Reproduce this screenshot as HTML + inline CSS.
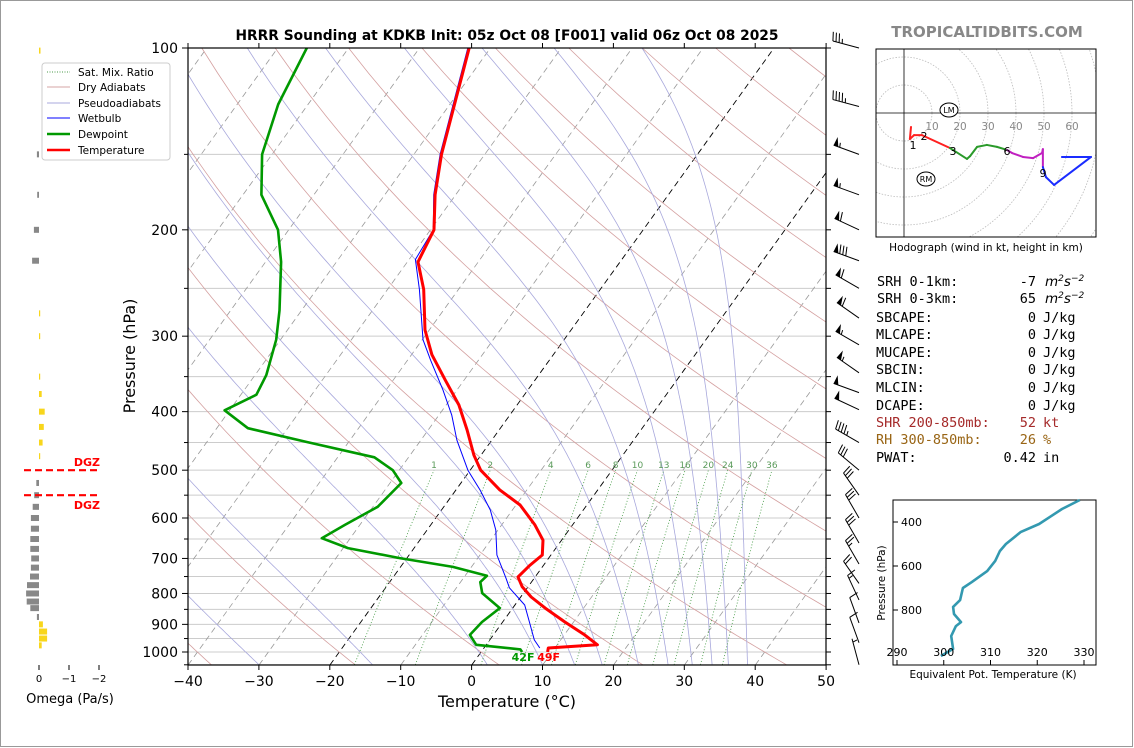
<!DOCTYPE html>
<html><head><meta charset="utf-8"><style>
html,body{margin:0;padding:0;background:#fff;}
svg{display:block;font-family:"DejaVu Sans","Liberation Sans",sans-serif;}
</style></head><body>
<svg id="fig" xmlns="http://www.w3.org/2000/svg" width="1134" height="748" viewBox="0 0 1134 748">
<rect x="0.5" y="0.5" width="1132" height="746" fill="#fff" stroke="#999"/>
<defs><clipPath id="mainclip"><rect x="188" y="48" width="638" height="617"/></clipPath>
<clipPath id="hodoclip"><rect x="876" y="49" width="220" height="188"/></clipPath></defs>
<text x="507" y="40" text-anchor="middle" font-size="13.8" font-weight="bold">HRRR Sounding at KDKB Init: 05z Oct 08 [F001] valid 06z Oct 08 2025</text>
<text x="987" y="37" text-anchor="middle" font-size="15" font-weight="bold" fill="#888">TROPICALTIDBITS.COM</text>
<g id="bg" clip-path="url(#mainclip)"></g>
<g id="prof" clip-path="url(#mainclip)"></g>
<g id="axes"></g>
<g id="barbs"></g>
<g id="omega"></g>
<g id="hodo"></g>
<g id="inset"></g>
<g>
<rect x="42" y="63" width="128" height="97" rx="3" fill="#fff" stroke="#ccc"/>
<line x1="47" y1="72" x2="70" y2="72" stroke="#4a9a4a" stroke-dasharray="1,1.5"/>
<text x="78" y="76" font-size="10.5">Sat. Mix. Ratio</text>
<line x1="47" y1="87" x2="70" y2="87" stroke="#d4a5a5"/>
<text x="78" y="91" font-size="10.5">Dry Adiabats</text>
<line x1="47" y1="103" x2="70" y2="103" stroke="#aaaadd"/>
<text x="78" y="107" font-size="10.5">Pseudoadiabats</text>
<line x1="47" y1="118" x2="70" y2="118" stroke="#0000ff"/>
<text x="78" y="122" font-size="10.5">Wetbulb</text>
<line x1="47" y1="134" x2="70" y2="134" stroke="#009900" stroke-width="2.5"/>
<text x="78" y="138" font-size="10.5">Dewpoint</text>
<line x1="47" y1="150" x2="70" y2="150" stroke="#ff0000" stroke-width="2.5"/>
<text x="78" y="154" font-size="10.5">Temperature</text>
</g>
<g font-family="DejaVu Sans Mono, Liberation Mono, monospace" font-size="13.5">
<text x="877" y="286">SRH 0-1km:</text><text x="1036" y="286" text-anchor="end">-7</text><text x="1045" y="286" font-style="italic" font-family="DejaVu Sans,sans-serif">m<tspan dy="-5" font-size="9">2</tspan><tspan dy="5">s</tspan><tspan dy="-5" font-size="9">−2</tspan></text>
<text x="877" y="303">SRH 0-3km:</text><text x="1036" y="303" text-anchor="end">65</text><text x="1045" y="303" font-style="italic" font-family="DejaVu Sans,sans-serif">m<tspan dy="-5" font-size="9">2</tspan><tspan dy="5">s</tspan><tspan dy="-5" font-size="9">−2</tspan></text>
<text x="876" y="322">SBCAPE:</text><text x="1036" y="322" text-anchor="end">0</text><text x="1043" y="322">J/kg</text>
<text x="876" y="339">MLCAPE:</text><text x="1036" y="339" text-anchor="end">0</text><text x="1043" y="339">J/kg</text>
<text x="876" y="357">MUCAPE:</text><text x="1036" y="357" text-anchor="end">0</text><text x="1043" y="357">J/kg</text>
<text x="876" y="374">SBCIN:</text><text x="1036" y="374" text-anchor="end">0</text><text x="1043" y="374">J/kg</text>
<text x="876" y="392">MLCIN:</text><text x="1036" y="392" text-anchor="end">0</text><text x="1043" y="392">J/kg</text>
<text x="876" y="410">DCAPE:</text><text x="1036" y="410" text-anchor="end">0</text><text x="1043" y="410">J/kg</text>
<text x="876" y="427" fill="#a52a2a">SHR 200-850mb:</text><text x="1036" y="427" text-anchor="end" fill="#a52a2a">52</text><text x="1043" y="427" fill="#a52a2a">kt</text>
<text x="876" y="444" fill="#996515">RH 300-850mb:</text><text x="1036" y="444" text-anchor="end" fill="#996515">26</text><text x="1043" y="444" fill="#996515">%</text>
<text x="876" y="462">PWAT:</text><text x="1036" y="462" text-anchor="end">0.42</text><text x="1043" y="462">in</text>
</g>
</svg>
<script>
// ---- Sounding data ----
const tempP = [100,150,175,200,226,251,293,322,355,390,429,472,500,539,571,616,653,691,718,751,780,811,846,892,937,973,985,1000];
const tempC = [-63.0,-56.1,-52.9,-49.5,-48.5,-44.9,-40.6,-37.1,-32.6,-28.2,-24.5,-21.0,-18.5,-13.8,-9.4,-5.3,-2.6,-1.2,-1.9,-2.4,-0.8,1.5,4.6,8.8,12.9,15.7,9.1,9.4];
const dewP = [100,124,150,175,200,226,272,304,348,375,398,426,449,476,500,525,575,616,648,673,699,723,748,766,799,846,892,937,973,990,1000];
const dewC = [-85.9,-84.2,-81.4,-77.4,-71.5,-67.8,-63.1,-60.6,-58.4,-57.8,-60.7,-55.6,-45.9,-34.8,-30.9,-28.4,-29.3,-32.1,-34.0,-29.3,-21.0,-12.6,-6.9,-7.2,-5.8,-1.8,-2.9,-3.3,-1.4,5.3,5.8];
const wbP = [100,150,175,200,224,251,304,329,368,405,446,500,539,582,628,691,754,783,836,902,955,985];
const wbC = [-63.2,-56.3,-53.1,-49.6,-49.1,-45.5,-39.9,-36.7,-32.0,-28.2,-24.9,-20.3,-16.6,-13.1,-10.3,-7.6,-4.0,-2.5,1.4,4.2,6.3,7.9];
const barbP = [100,125,150,175,200,225,250,280,310,345,372,397,450,500,550,600,660,715,770,820,895,965,1050];
const barbSpd = [35,45,55,55,60,80,60,60,55,55,50,50,45,30,30,30,30,25,20,15,10,10,5];
const barbDir = [285,285,290,290,295,290,300,305,300,305,290,295,300,310,325,330,330,330,325,335,340,340,345];
const omegaP = [101,150,175,200,225,275,300,350,374,400,424,450,474,525,550,575,600,625,650,675,700,725,750,775,800,825,846,875,900,925,950,975];
const omegaV = [-0.05,0.07,0.06,0.17,0.23,-0.03,-0.01,-0.01,-0.09,-0.19,-0.16,-0.12,-0.01,0.09,0.16,0.21,0.27,0.27,0.29,0.29,0.26,0.27,0.3,0.4,0.43,0.41,0.29,0.07,-0.13,-0.27,-0.27,-0.09];
const hodoU = [2.5,2.1,3.6,6.4,16.4,17.5,22.5,23.6,26.1,29.6,33.2,36.8,38.6,42.5,46.1,49.3,49.6,49.6,50.7,53.6,66.8,56.4];
const hodoV = [-5,-9.3,-7.9,-7.9,-12.5,-13.2,-16.4,-15.4,-12.1,-11.4,-12.1,-13.2,-14.3,-15.7,-16.1,-14.3,-12.9,-19.3,-22.9,-25.7,-15.7,-15.7];
const hodoSeg = ["red","red","red","red","red","green","green","green","green","green","green","green","magenta","magenta","magenta","magenta","magenta","magenta","blue","blue","blue","blue"];
const thetaE = [299.4,302.0,301.6,302.6,303.7,302.2,302.0,303.5,304.1,306.0,309.3,311.0,312.0,313.3,316.5,320.4,322.7,325.3,329.1];
const thetaP = [1009,977,918,873,855,818,786,755,700,673,623,577,532,500,445,409,377,341,300];
const xTicks = [-40,-30,-20,-10,0,10,20,30,40,50];
const pTicks = [100,200,300,400,500,600,700,800,900,1000];
const mixW = [1,2,4,6,8,10,13,16,20,24,30,36];

const NS = "http://www.w3.org/2000/svg";
function mk(tag, attrs, parent){const e=document.createElementNS(NS,tag);for(const k in attrs)e.setAttribute(k,attrs[k]);parent.appendChild(e);return e;}
const yP = p => 48 + 604*Math.log10(p/100);
const xT = (T,p) => 188 + (T+40)*7.09 + 0.72*(665 - yP(p));
const pathOf = pts => pts.map((q,i)=>(i?"L":"M")+q[0].toFixed(1)+","+q[1].toFixed(1)).join("");

const bg = document.getElementById("bg");
for(let p=100;p<=1050;p+=50){
  const l=mk("line",{x1:188,x2:826,y1:yP(p),y2:yP(p),stroke:"#cccccc","stroke-width":1},bg);
  
  
}
for(let T=-130;T<=50;T+=10){
  const black=(T===-20||T===0);
  const l=mk("line",{x1:xT(T,1050),y1:665,x2:xT(T,100),y2:48,stroke:black?"#000":"#999","stroke-width":black?0.9:0.8,"stroke-dasharray":"6,4"},bg);
  
  
}
for(let t0=-40;t0<=260;t0+=20){
  const th=t0+273.15;const pts=[];
  for(let p=1050;p>=100;p-=10){pts.push([xT(th*Math.pow(p/1000,0.286)-273.15,p),yP(p)]);}
  const l=mk("path",{d:pathOf(pts),fill:"none",stroke:"#d4a0a0","stroke-width":0.8},bg);
  
  
}
function esat(Tc){return 6.112*Math.exp(17.67*Tc/(Tc+243.5));}
[-46,-30,-14,2.2,10,14.5,18.4,23.5,27.7,31.1,33.9,36.2,38.9].forEach(t0=>{
  let T=t0+273.15;const pts=[];
  for(let p=1050;p>=100;p-=5){
    pts.push([xT(T-273.15,p),yP(p)]);
    const es=esat(T-273.15);const rs=0.622*es/(p-es);
    const Rd=287,Cp=1005,Lv=2.5e6;
    const dTdp=(Rd*T+Lv*rs)/(p*(Cp+Lv*Lv*rs*0.622/(Rd*T*T)));
    T-=dTdp*5;
  }
  const l=mk("path",{d:pathOf(pts),fill:"none",stroke:"#a8a8dc","stroke-width":0.8},bg);
  
  
});
mixW.forEach(w=>{
  const pts=[];
  for(let p=1050;p>=500;p-=10){const e=w*p/(622+w);const L=Math.log(e/6.112);pts.push([xT(243.5*L/(17.67-L),p),yP(p)]);}
  const l=mk("path",{d:pathOf(pts),fill:"none",stroke:"#3c963c","stroke-width":0.8,"stroke-dasharray":"1,2"},bg);
  
  
  const e=w*500/(622+w);const L=Math.log(e/6.112);
  const t=mk("text",{x:xT(243.5*L/(17.67-L),500),y:468,"font-size":9,fill:"#5a9a5a","text-anchor":"middle"},bg);
  t.textContent=w;
  
  
});
const prof=document.getElementById("prof");
function series(P,T,color,w){
  const pts=P.map((p,i)=>[xT(T[i],p),yP(p)]);
  return mk("path",{d:pathOf(pts),fill:"none",stroke:color,"stroke-width":w,"stroke-linejoin":"round"},prof);
}
const wbl=series(wbP,wbC,"#0000ff",1);


const dwl=series(dewP,dewC,"#009900",2.6);


const tl=series(tempP,tempC,"#ff0000",3);


const sfcT=tempC[tempC.length-1], sfcD=dewC[dewC.length-1];
const tf=mk("text",{x:xT(sfcT,1000)+1,y:661,"font-size":11,"font-weight":"bold",fill:"#ff0000","text-anchor":"middle"},document.getElementById("fig"));
tf.textContent=Math.round(sfcT*9/5+32)+"F";


const df=mk("text",{x:xT(sfcD,1000)+1,y:661,"font-size":11,"font-weight":"bold",fill:"#009900","text-anchor":"middle"},document.getElementById("fig"));
df.textContent=Math.round(sfcD*9/5+32)+"F";



const ax=document.getElementById("axes");
const frame=mk("rect",{x:188,y:48,width:638,height:617,fill:"none",stroke:"#000","stroke-width":1.2},ax);


xTicks.forEach(T=>{
  const x=188+(T+40)*7.09;
  mk("line",{x1:x,x2:x,y1:665,y2:670,stroke:"#000"},ax);
  mk("line",{x1:x,x2:x,y1:48,y2:43,stroke:"#000"},ax);
  const t=mk("text",{x:x,y:686,"font-size":14,"text-anchor":"middle"},ax);
  t.textContent=(T<0?"\u2212"+(-T):T);
  
  
});
for(let p=100;p<=1050;p+=50){
  const y=yP(p);const major=(p%100===0);
  mk("line",{x1:major?182:184,x2:188,y1:y,y2:y,stroke:"#000"},ax);
  mk("line",{x1:826,x2:831,y1:y,y2:y,stroke:"#000"},ax);
}
pTicks.forEach(p=>{
  const t=mk("text",{x:178,y:yP(p)+5,"font-size":14,"text-anchor":"end"},ax);
  t.textContent=p;
  
  
});
const xl=mk("text",{x:507,y:707,"font-size":16,"text-anchor":"middle"},ax);
xl.textContent="Temperature (\u00B0C)";


const yl=mk("text",{x:0,y:0,"font-size":16,"text-anchor":"middle",transform:"translate(135,356) rotate(-90)"},ax);
yl.textContent="Pressure (hPa)";



const bg2=document.getElementById("barbs");
barbP.forEach((p,i)=>{
  const px=859, py=yP(p), L=27, d=barbDir[i]*Math.PI/180;
  const ux=Math.sin(d), uy=-Math.cos(d);
  const nx=-uy, ny=ux;
  const ex=px+ux*L, ey=py+uy*L;
  const g=mk("g",{},bg2);
  
  
  mk("line",{x1:px,y1:py,x2:ex,y2:ey,stroke:"#000","stroke-width":1},g);
  let s=Math.round(barbSpd[i]/5)*5, pos=0;
  while(s>=50){
    const ax1=ex-ux*pos, ay1=ey-uy*pos, bx=ex-ux*(pos+5), by=ey-uy*(pos+5);
    mk("polygon",{points:`${ax1},${ay1} ${bx},${by} ${ax1+nx*9-ux*1},${ay1+ny*9-uy*1}`,fill:"#000"},g);
    pos+=6.5; s-=50;
  }
  if(pos===0 && s<10 && s>0) pos=3.5;
  while(s>=10){
    const ax1=ex-ux*pos, ay1=ey-uy*pos;
    mk("line",{x1:ax1,y1:ay1,x2:ax1+nx*9+ux*2,y2:ay1+ny*9+uy*2,stroke:"#000"},g);
    pos+=3.2; s-=10;
  }
  if(s>=5){
    const ax1=ex-ux*pos, ay1=ey-uy*pos;
    mk("line",{x1:ax1,y1:ay1,x2:ax1+nx*4.5+ux*1,y2:ay1+ny*4.5+uy*1,stroke:"#000"},g);
  }
});

const og=document.getElementById("omega");
omegaP.forEach((p,i)=>{
  const v=omegaV[i], x0=39, x1=39-30*v;
  const r=mk("rect",{x:Math.min(x0,x1),y:yP(p)-3,width:Math.max(Math.abs(x1-x0),1.2),height:6,fill:v>0?"#888888":"#f8d61c"},og);
  
  
});
[0,-1,-2].forEach(v=>{
  const x=39-30*v;
  mk("line",{x1:x,x2:x,y1:665,y2:670,stroke:"#000"},og);
  const t=mk("text",{x:x,y:682,"font-size":10,"text-anchor":"middle"},og);
  t.textContent=v===0?"0":"\u2212"+(-v);
  
  
});
const ot=mk("text",{x:70,y:703,"font-size":13,"text-anchor":"middle"},og);
ot.textContent="Omega (Pa/s)";


[[500,-1],[550,1]].forEach(([p,s])=>{
  const l=mk("line",{x1:24,x2:99,y1:yP(p),y2:yP(p),stroke:"#ff0000","stroke-width":2.2,"stroke-dasharray":"7,4"},og);
  
  
  const t=mk("text",{x:100,y:yP(p)+(s<0?-4:14),"font-size":11,"font-weight":"bold",fill:"#ff0000","text-anchor":"end"},og);
  t.textContent="DGZ";
  
  
});

const hg=document.getElementById("hodo");
const hx=u=>904+u*2.8, hy=v=>113-v*2.8;
const hc=mk("g",{"clip-path":"url(#hodoclip)"},hg);
for(let r=10;r<=100;r+=10){
  const c=mk("circle",{cx:904,cy:113,r:r*2.8,fill:"none",stroke:"#bbb","stroke-width":0.8,"stroke-dasharray":"1.5,1.5"},hc);
  
  
}
mk("line",{x1:904,x2:904,y1:49,y2:237,stroke:"#000","stroke-width":0.8},hc);
mk("line",{x1:876,x2:1096,y1:113,y2:113,stroke:"#000","stroke-width":0.8},hc);
const hb=mk("rect",{x:876,y:49,width:220,height:188,fill:"none",stroke:"#000","stroke-width":1},hg);


for(let r=10;r<=60;r+=10){
  const t=mk("text",{x:hx(r),y:130,"font-size":10.5,fill:"#888","text-anchor":"middle"},hg);
  t.textContent=r;
  
  
}
const colMap={red:"#ff2020",green:"#2a9a2a",magenta:"#c020c0",blue:"#1a2cff"};
for(let i=1;i<hodoU.length;i++){
  const l=mk("line",{x1:hx(hodoU[i-1]),y1:hy(hodoV[i-1]),x2:hx(hodoU[i]),y2:hy(hodoV[i]),stroke:colMap[hodoSeg[i]],"stroke-width":2,"stroke-linecap":"round"},hc);
  
  
}
[["1",913,149],["2",924,140],["3",953,155],["6",1007,155],["9",1043,177]].forEach(([s,x,y])=>{
  const t=mk("text",{x:x,y:y,"font-size":11,"text-anchor":"middle"},hg);
  t.textContent=s;
  
  
});
[["LM",949,110],["RM",926,179]].forEach(([s,x,y])=>{
  const c=mk("ellipse",{cx:x,cy:y,rx:9,ry:7,fill:"#fff",stroke:"#000"},hg);
  
  
  const t=mk("text",{x:x,y:y+3,"font-size":8,"text-anchor":"middle"},hg);
  t.textContent=s;
  
  
});
const hcap=mk("text",{x:986,y:251,"font-size":10.5,"text-anchor":"middle"},hg);
hcap.textContent="Hodograph (wind in kt, height in km)";



const ig=document.getElementById("inset");
const ix=t=>897+(t-290)*4.675, iy=p=>610+(p-800)*44/200;
const ib=mk("rect",{x:893,y:500,width:203,height:165,fill:"none",stroke:"#000","stroke-width":1},ig);


const ipath=mk("path",{d:pathOf(thetaE.map((t,i)=>[ix(t),iy(thetaP[i])])),fill:"none",stroke:"#3399b0","stroke-width":2.6,"stroke-linejoin":"round"},ig);


[400,600,800].forEach(p=>{
  mk("line",{x1:893,x2:898,y1:iy(p),y2:iy(p),stroke:"#000"},ig);
  const t=mk("text",{x:901,y:iy(p)+4,"font-size":11},ig);
  t.textContent=p;
  
  
});
[290,300,310,320,330].forEach(v=>{
  mk("line",{x1:ix(v),x2:ix(v),y1:665,y2:660,stroke:"#000"},ig);
  const t=mk("text",{x:ix(v),y:656,"font-size":11,"text-anchor":"middle"},ig);
  t.textContent=v;
  
  
});
const ixl=mk("text",{x:993,y:678,"font-size":10.5,"text-anchor":"middle"},ig);
ixl.textContent="Equivalent Pot. Temperature (K)";


const iyl=mk("text",{x:0,y:0,"font-size":10.5,"text-anchor":"middle",transform:"translate(885,583) rotate(-90)"},ig);
iyl.textContent="Pressure (hPa)";


</script>
</body></html>
